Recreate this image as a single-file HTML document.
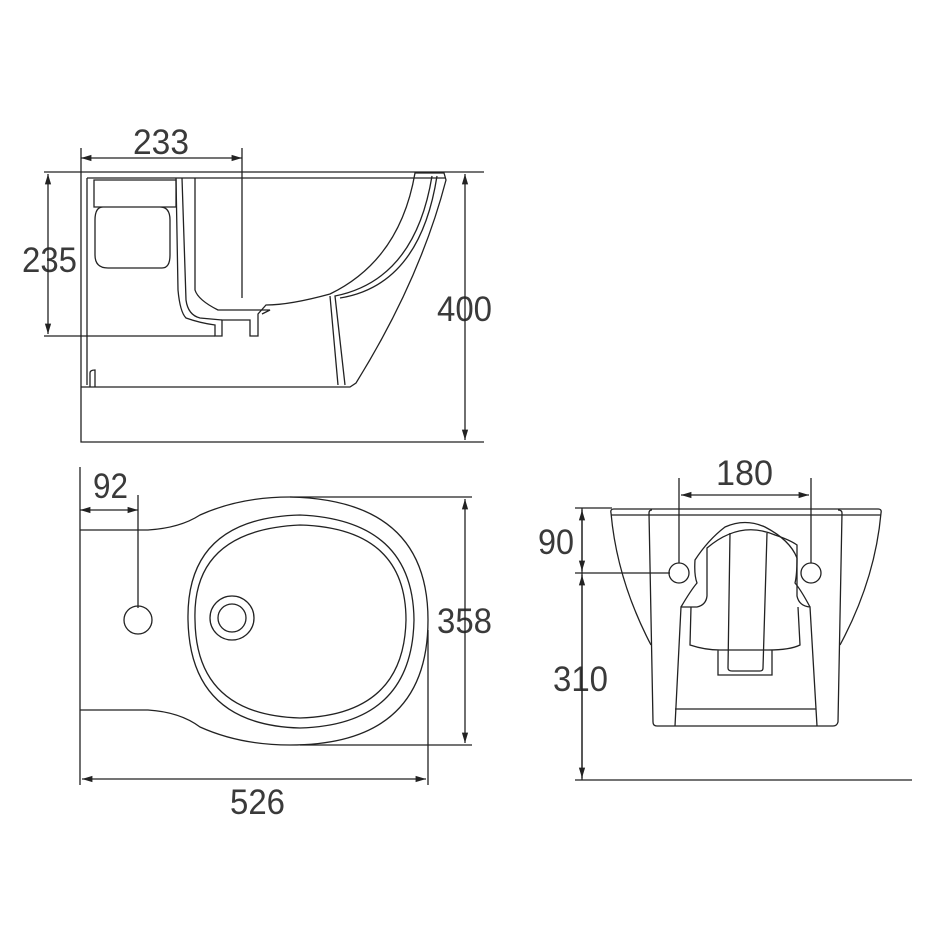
<!DOCTYPE html>
<html><head><meta charset="utf-8"><style>body{margin:0;background:#fff}svg{display:block}</style></head><body>
<svg width="950" height="950" viewBox="0 0 950 950" xmlns="http://www.w3.org/2000/svg" fill="none" stroke="#222" stroke-width="1.3" font-family="Liberation Sans, sans-serif">
<defs><marker id="a" viewBox="0 0 10 10" refX="10" refY="5" markerWidth="8" markerHeight="8" orient="auto-start-reverse"><path d="M0,2 L10,5 L0,8" fill="#222" stroke="none"/></marker></defs>
<g fill="#3a3a3a" stroke="none" font-size="35" lengthAdjust="spacingAndGlyphs">
<text x="133" y="154" textLength="56" lengthAdjust="spacingAndGlyphs">233</text>
<text x="22" y="272" textLength="55" lengthAdjust="spacingAndGlyphs">235</text>
<text x="437" y="321" textLength="55" lengthAdjust="spacingAndGlyphs">400</text>
<text x="93" y="498" textLength="35" lengthAdjust="spacingAndGlyphs">92</text>
<text x="437" y="633" textLength="55" lengthAdjust="spacingAndGlyphs">358</text>
<text x="230" y="814" textLength="55" lengthAdjust="spacingAndGlyphs">526</text>
<text x="716" y="485" textLength="57" lengthAdjust="spacingAndGlyphs">180</text>
<text x="538" y="554" textLength="36" lengthAdjust="spacingAndGlyphs">90</text>
<text x="553" y="691" textLength="55" lengthAdjust="spacingAndGlyphs">310</text>
</g>
<!-- side view -->
<path d="M81,148V442H484"/>
<line x1="81" y1="158" x2="242" y2="158" marker-start="url(#a)" marker-end="url(#a)"/>
<line x1="242" y1="148" x2="242" y2="298"/>
<path d="M44,172H484M44,336H215"/>
<line x1="48" y1="174" x2="48" y2="334" marker-start="url(#a)" marker-end="url(#a)"/>
<line x1="465" y1="174" x2="465" y2="440" marker-start="url(#a)" marker-end="url(#a)"/>
<path d="M81,387H350L356,383Q420,280 446,180L444,173H415Q400,260 330,294Q290,305 266,305L258,314V336H250V320H222V336H215V325Q200,323 186,318Q180,312 178,290L176,178"/>
<path d="M87,178H445M94,180H176V207H94ZM103,207Q95,207 95,220V255Q95,268 108,268H162Q170,268 170,255V220Q170,207 160,207Z"/>
<path d="M87,178V385M90,387V373Q90,370 95,370V387"/>
<path d="M182,178L186,300Q188,315 200,318L222,320M195,178V290Q198,300 218,310H270L262,314M432,176Q415,280 335,296L345,385M437,176Q420,285 340,298M330,296L338,385"/>
<!-- top view -->
<path d="M80,467V785M80,530H148Q180,528 200,515Q240,497 290,497Q428,500 428,620Q428,745 290,745Q240,745 200,727Q180,712 148,710H80"/>
<line x1="80" y1="510" x2="138" y2="510" marker-start="url(#a)" marker-end="url(#a)"/>
<line x1="138" y1="495" x2="138" y2="608"/>
<circle cx="138" cy="620" r="14"/>
<path d="M195,620Q192,530 300,525Q406,528 406,620Q404,715 300,718Q196,715 195,620Z"/>
<path d="M188,620Q186,518 300,515Q413,520 414,620Q412,725 300,728Q190,725 188,620Z"/>
<circle cx="232" cy="618" r="22"/><circle cx="232" cy="618" r="14"/>
<path d="M290,497H472M300,745H472"/>
<line x1="465" y1="499" x2="465" y2="743" marker-start="url(#a)" marker-end="url(#a)"/>
<path d="M428,630V785"/>
<line x1="82" y1="779" x2="426" y2="779" marker-start="url(#a)" marker-end="url(#a)"/>
<!-- front view -->
<path d="M575,508H612M575,573H670M575,780H912M582,508V780"/>
<line x1="582" y1="510" x2="582" y2="571" marker-start="url(#a)" marker-end="url(#a)"/>
<line x1="582" y1="575" x2="582" y2="778" marker-start="url(#a)" marker-end="url(#a)"/>
<path d="M679,478V563M811,478V563"/>
<line x1="681" y1="495" x2="809" y2="495" marker-start="url(#a)" marker-end="url(#a)"/>
<circle cx="679" cy="573" r="10"/><circle cx="811" cy="573" r="10"/>
<path d="M614,509H878Q882,509 881,513Q875,580 840,645M614,509Q610,509 611,513Q617,580 651,645M611,515H881"/>
<path d="M652,510Q649,510 649,513L653,722Q653,726 657,726H833Q837,726 838,722L842,513Q842,510 838,510"/>
<path d="M675,726L681,607H697Q706,605 707,596V548Q740,520 775,535Q790,540 797,545V596Q799,606 810,607L817,726M675,709H816"/>
<path d="M681,607Q691,590 697,583Q694,575 695,560Q708,540 725,527Q745,518 765,527Q790,540 797,558Q797,575 795,583Q801,590 810,607"/>
<path d="M691,607L690,645Q705,650 720,650H768Q790,650 800,645L798,607M718,650V675H772V650M730,533L728,668Q728,671 732,671H760Q763,671 763,668L767,533"/>
</svg>
</body></html>
